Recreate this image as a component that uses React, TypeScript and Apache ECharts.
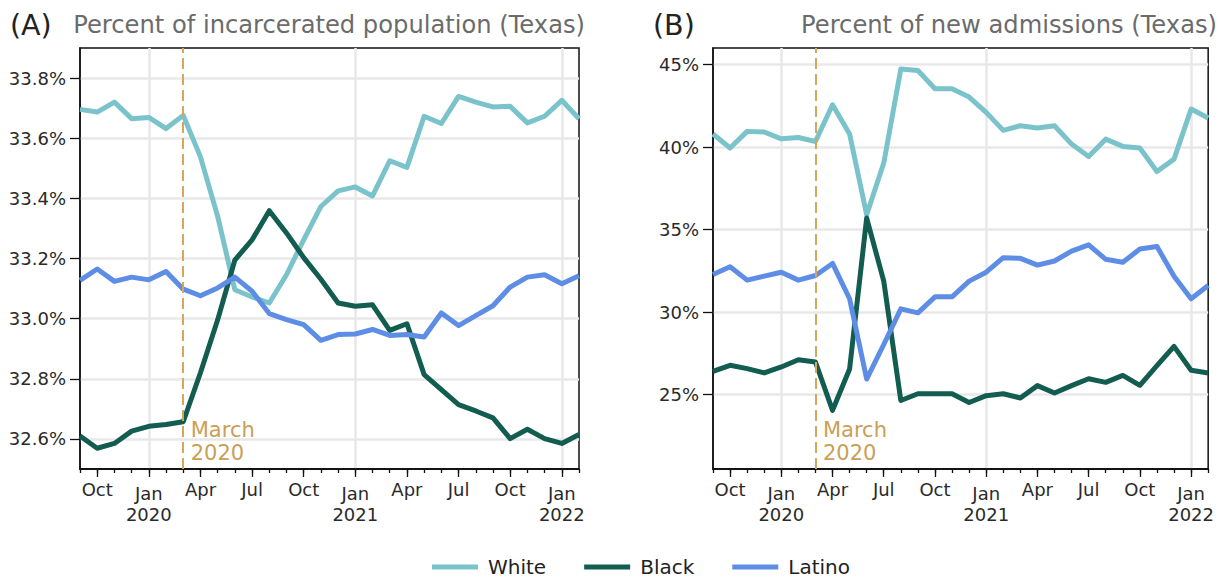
import React, { useEffect, useRef } from 'react';
import * as echarts from 'echarts';

const months = [
  'Sep 2019', 'Oct 2019', 'Nov 2019', 'Dec 2019',
  'Jan 2020', 'Feb 2020', 'Mar 2020', 'Apr 2020', 'May 2020', 'Jun 2020', 'Jul 2020', 'Aug 2020', 'Sep 2020', 'Oct 2020', 'Nov 2020', 'Dec 2020',
  'Jan 2021', 'Feb 2021', 'Mar 2021', 'Apr 2021', 'May 2021', 'Jun 2021', 'Jul 2021', 'Aug 2021', 'Sep 2021', 'Oct 2021', 'Nov 2021', 'Dec 2021',
  'Jan 2022', 'Feb 2022',
];

const incWhite = [33.696, 33.687, 33.72, 33.665, 33.669, 33.632, 33.676, 33.538, 33.34, 33.096, 33.072, 33.052, 33.146, 33.262, 33.373, 33.425, 33.438, 33.408, 33.525, 33.503, 33.673, 33.649, 33.739, 33.72, 33.704, 33.706, 33.651, 33.673, 33.726, 33.665];
const incBlack = [32.61, 32.569, 32.585, 32.626, 32.642, 32.648, 32.657, 32.82, 32.996, 33.195, 33.262, 33.359, 33.285, 33.203, 33.131, 33.052, 33.041, 33.046, 32.961, 32.983, 32.814, 32.764, 32.714, 32.693, 32.67, 32.601, 32.632, 32.601, 32.585, 32.615];
const incLatino = [33.127, 33.165, 33.124, 33.138, 33.129, 33.157, 33.098, 33.076, 33.102, 33.138, 33.091, 33.017, 32.997, 32.98, 32.928, 32.947, 32.949, 32.964, 32.944, 32.947, 32.939, 33.019, 32.977, 33.01, 33.043, 33.105, 33.138, 33.146, 33.116, 33.143];

const admWhite = [40.79, 39.94, 40.95, 40.91, 40.5, 40.58, 40.34, 42.56, 40.79, 35.9, 39.03, 44.73, 44.64, 43.53, 43.53, 43.03, 42.1, 41.01, 41.29, 41.15, 41.29, 40.18, 39.43, 40.48, 40.04, 39.94, 38.52, 39.27, 42.3, 41.76];
const admBlack = [26.41, 26.78, 26.58, 26.32, 26.68, 27.12, 26.98, 24.05, 26.56, 35.7, 31.88, 24.65, 25.06, 25.06, 25.06, 24.53, 24.94, 25.06, 24.8, 25.55, 25.1, 25.55, 25.97, 25.75, 26.17, 25.57, 26.76, 27.93, 26.48, 26.32];
const admLatino = [32.28, 32.75, 31.94, 32.18, 32.42, 31.94, 32.22, 32.95, 30.81, 25.95, 28.04, 30.2, 29.96, 30.93, 30.93, 31.88, 32.42, 33.3, 33.26, 32.85, 33.1, 33.7, 34.08, 33.2, 33.02, 33.82, 33.98, 32.18, 30.81, 31.62];

const incTicks = [32.6, 32.8, 33.0, 33.2, 33.4, 33.6, 33.8];
const admTicks = [25, 30, 35, 40, 45];
const incRange = [32.5, 33.9];
const admRange = [20.5, 46];
const marchMonth = 'Mar 2020';
const legendNames = ['White', 'Black', 'Latino'];

const FONT = 'DejaVu Sans';
const C_WHITE = '#7bc3ca';
const C_BLACK = '#125c50';
const C_LATINO = '#5e8de6';
const C_MARCH = '#d5a75c';
const C_MARCH_TEXT = '#caa056';
const C_GRID = '#e8e8e8';
const C_SPINE = '#111111';
const C_TICKTEXT = '#2a2a2a';

function makeXAxes(gridIndex: number) {
  const base = {
    type: 'category',
    gridIndex,
    data: months,
    boundaryGap: false,
    position: 'bottom',
    axisLine: { show: true, onZero: false, lineStyle: { color: C_SPINE, width: 1.5 } },
  };
  return [
    {
      ...base,
      axisTick: { show: true, interval: 0, length: 4, lineStyle: { color: C_SPINE, width: 1.3 } },
      axisLabel: { show: false },
      splitLine: { show: false },
    },
    {
      ...base,
      axisTick: { show: true, interval: (i: number) => i % 3 === 1, length: 8, lineStyle: { color: C_SPINE, width: 1.3 } },
      axisLabel: {
        show: true,
        interval: (i: number) => i % 3 === 1,
        margin: 11,
        color: C_TICKTEXT,
        fontSize: 18,
        fontFamily: FONT,
        formatter: (v: string) => {
          const [m, y] = v.split(' ');
          return m === 'Jan' ? `{j|${m}}\n{y|${y}}` : `{m|${m}}`;
        },
        rich: {
          m: { fontSize: 18, lineHeight: 18, fontFamily: FONT, color: C_TICKTEXT },
          j: { fontSize: 18, lineHeight: 26, fontFamily: FONT, color: C_TICKTEXT },
          y: { fontSize: 18, lineHeight: 16, fontFamily: FONT, color: C_TICKTEXT },
        },
      },
      splitLine: { show: true, interval: (i: number) => i % 12 === 4, lineStyle: { color: C_GRID, width: 2.5 } },
    },
  ];
}

function makeYAxis(gridIndex: number, range: number[], ticks: number[], fmt: (v: number) => string) {
  return {
    type: 'value',
    gridIndex,
    min: range[0],
    max: range[1],
    splitNumber: ticks.length,
    axisLine: { show: true, lineStyle: { color: C_SPINE, width: 1.5 } },
    axisTick: { show: true, length: 10, customValues: ticks, lineStyle: { color: C_SPINE, width: 1.3 } },
    axisLabel: { customValues: ticks, formatter: fmt, fontSize: 18, margin: 14, color: C_TICKTEXT, fontFamily: FONT },
    splitLine: { show: true, lineStyle: { color: C_GRID, width: 2.5 } },
  };
}

function lineSeries(name: string, data: number[], color: string, xi: number, yi: number, extra: any = {}) {
  return {
    type: 'line',
    name,
    data,
    xAxisIndex: xi,
    yAxisIndex: yi,
    color,
    showSymbol: false,
    symbol: 'none',
    lineStyle: { color, width: 5, join: 'round', cap: 'butt' },
    ...extra,
  };
}

function marchMarkers(yMin: number) {
  return {
    markLine: {
      silent: true,
      symbol: ['none', 'none'],
      label: { show: false },
      lineStyle: { color: C_MARCH, width: 2, type: [11, 5] },
      data: [{ xAxis: marchMonth }],
    },
    markPoint: {
      silent: true,
      symbol: 'circle',
      symbolSize: 1,
      itemStyle: { color: 'rgba(0,0,0,0)' },
      label: {
        show: true,
        position: [8, -4],
        align: 'left',
        verticalAlign: 'bottom',
        formatter: 'March\n2020',
        fontSize: 21,
        lineHeight: 23,
        fontFamily: FONT,
        color: C_MARCH_TEXT,
      },
      data: [{ coord: [marchMonth, yMin] }],
    },
  };
}

export default function App() {
  const ref = useRef<HTMLDivElement>(null);
  useEffect(() => {
    if (!ref.current) return;
    const chart = echarts.init(ref.current, undefined, { renderer: 'svg' });
    const titleStyle = { fontSize: 24.2, fontWeight: 'normal', color: '#6b6b6b', fontFamily: FONT, lineHeight: 28 };
    const tagStyle = { fontSize: 28.5, fontWeight: 'normal', color: '#222', fontFamily: FONT, lineHeight: 32 };
    chart.setOption({
      animation: false,
      backgroundColor: '#ffffff',
      textStyle: { fontFamily: FONT },
      title: [
        { text: '(A)', left: 10, top: 9, padding: 0, textStyle: tagStyle },
        { text: 'Percent of incarcerated population (Texas)', right: 632, top: 11, padding: 0, textStyle: titleStyle },
        { text: '(B)', left: 653, top: 9, padding: 0, textStyle: tagStyle },
        { text: 'Percent of new admissions (Texas)', right: 0, top: 11, padding: 0, textStyle: titleStyle },
      ],
      legend: {
        data: legendNames,
        left: 432,
        top: 557,
        padding: 0,
        icon: 'rect',
        itemWidth: 46,
        itemHeight: 5,
        itemGap: 38,
        textStyle: { fontSize: 20, lineHeight: 20, color: '#222', fontFamily: FONT, padding: [0, 0, 0, 5] },
      },
      grid: [
        { left: 80, top: 48, width: 499, height: 421, show: true, borderColor: C_SPINE, borderWidth: 1.5, backgroundColor: 'transparent' },
        { left: 713, top: 48, width: 499, height: 421, show: true, borderColor: C_SPINE, borderWidth: 1.5, backgroundColor: 'transparent' },
      ],
      xAxis: [...makeXAxes(0), ...makeXAxes(1)],
      yAxis: [
        makeYAxis(0, incRange, incTicks, (v: number) => v.toFixed(1) + '%'),
        makeYAxis(1, admRange, admTicks, (v: number) => Math.round(v) + '%'),
      ],
      series: [
        lineSeries('White', incWhite, C_WHITE, 0, 0, marchMarkers(incRange[0])),
        lineSeries('Black', incBlack, C_BLACK, 0, 0),
        lineSeries('Latino', incLatino, C_LATINO, 0, 0),
        lineSeries('White', admWhite, C_WHITE, 2, 1, marchMarkers(admRange[0])),
        lineSeries('Black', admBlack, C_BLACK, 2, 1),
        lineSeries('Latino', admLatino, C_LATINO, 2, 1),
      ],
    });
    return () => chart.dispose();
  }, []);
  return <div ref={ref} style={{ position: 'fixed', left: 0, top: 0, width: 1217, height: 579 }} />;
}
